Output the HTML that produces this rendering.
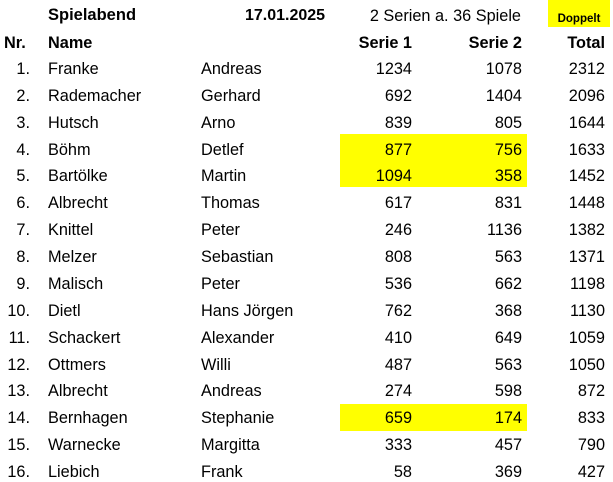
<!DOCTYPE html>
<html><head><style>
body{margin:0;width:613px;height:482px;background:#fff;position:relative;overflow:hidden;font-family:"Liberation Sans",sans-serif;font-size:16.3px;color:#000}
div{position:absolute;white-space:nowrap;line-height:20px}
.r{text-align:right}
.b{font-weight:bold}
.y{background:#ffff00}
</style></head><body>
<div class="y" style="left:340px;top:134px;width:187px;height:53px"></div>
<div class="y" style="left:340px;top:404px;width:187px;height:27px"></div>
<div class="y" style="left:548px;top:0;width:62px;height:27px"></div>
<div class="b" style="left:48px;top:5px;font-size:16.5px">Spielabend</div>
<div class="b" style="left:245px;top:6px;font-size:16px">17.01.2025</div>
<div style="left:300px;top:6px;width:221px;text-align:right">2 Serien a. 36 Spiele</div>
<div class="b" style="left:548px;top:9px;width:62px;text-align:center;font-size:11.5px">Doppelt</div>
<div class="b" style="left:4px;top:33px">Nr.</div>
<div class="b" style="left:48px;top:33px">Name</div>
<div class="b r" style="left:312px;top:33px;width:100px">Serie 1</div>
<div class="b r" style="left:422px;top:33px;width:100px">Serie 2</div>
<div class="b r" style="left:505px;top:33px;width:100px">Total</div>
<script>
var d=[["Franke","Andreas",1234,1078,2312],["Rademacher","Gerhard",692,1404,2096],["Hutsch","Arno",839,805,1644],["Böhm","Detlef",877,756,1633],["Bartölke","Martin",1094,358,1452],["Albrecht","Thomas",617,831,1448],["Knittel","Peter",246,1136,1382],["Melzer","Sebastian",808,563,1371],["Malisch","Peter",536,662,1198],["Dietl","Hans Jörgen",762,368,1130],["Schackert","Alexander",410,649,1059],["Ottmers","Willi",487,563,1050],["Albrecht","Andreas",274,598,872],["Bernhagen","Stephanie",659,174,833],["Warnecke","Margitta",333,457,790],["Liebich","Frank",58,369,427]];
var h="";
d.forEach(function(r,i){var t=59+i*26.87;
h+='<div class="r" style="left:0;top:'+t+'px;width:30px">'+(i+1)+'.</div>'+
'<div style="left:48px;top:'+t+'px">'+r[0]+'</div>'+
'<div style="left:201px;top:'+t+'px">'+r[1]+'</div>'+
'<div class="r" style="left:312px;top:'+t+'px;width:100px">'+r[2]+'</div>'+
'<div class="r" style="left:422px;top:'+t+'px;width:100px">'+r[3]+'</div>'+
'<div class="r" style="left:505px;top:'+t+'px;width:100px">'+r[4]+'</div>';});
document.body.insertAdjacentHTML('beforeend',h);
</script>
</body></html>
